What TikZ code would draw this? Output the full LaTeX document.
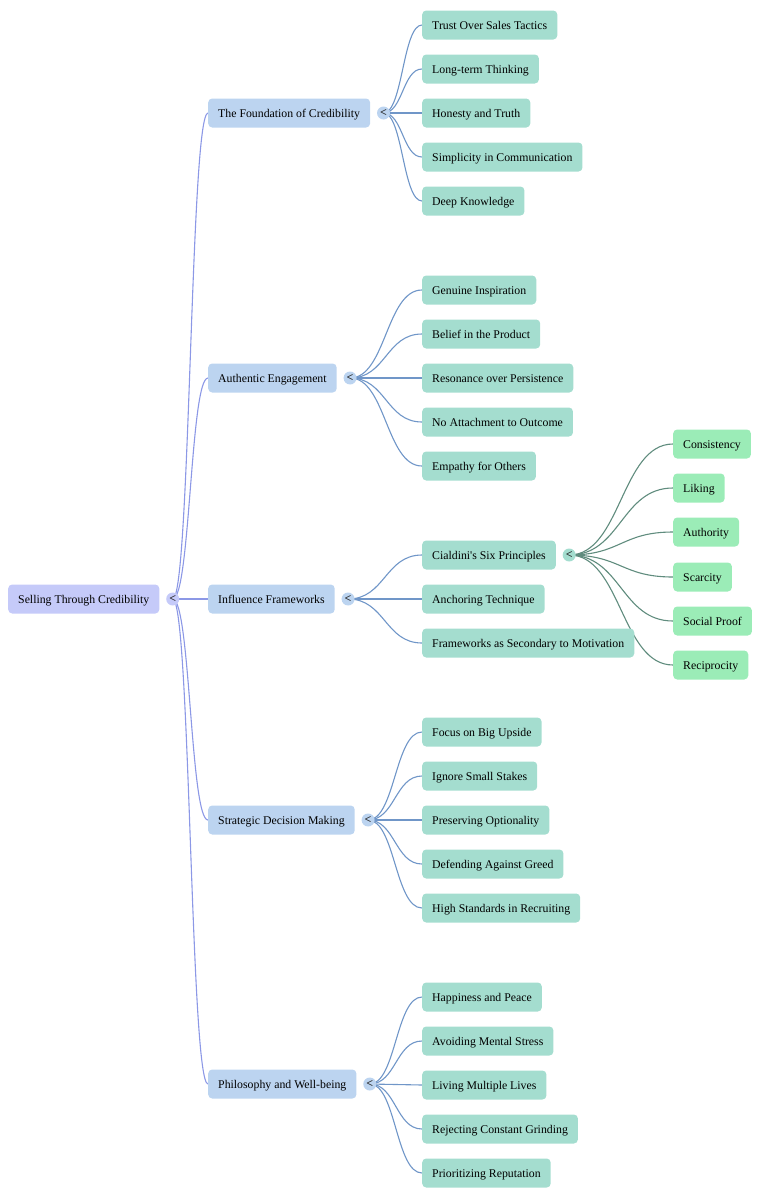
\documentclass[tikz,border=0pt]{standalone}
\usepackage{fontspec}
\setmainfont{Liberation Serif}[Ligatures=TeXOff]
\usetikzlibrary{positioning,calc,backgrounds}
\definecolor{rootfill}{RGB}{197,202,249}
\definecolor{topicfill}{RGB}{188,212,240}
\definecolor{ideafill}{RGB}{164,221,207}
\definecolor{leaffill}{RGB}{155,236,183}
\definecolor{rootline}{RGB}{140,152,230}
\definecolor{topicline}{RGB}{112,150,200}
\definecolor{idealine}{RGB}{96,140,126}
\tikzset{
  box/.style={rounded corners=4pt,anchor=west,minimum height=29pt,inner xsep=10pt,
    text height=9pt,text depth=1pt,font=\fontsize{11.8}{14}\selectfont,text=black},
  rootbox/.style={box,fill=rootfill},
  topicbox/.style={box,fill=topicfill},
  ideabox/.style={box,fill=ideafill},
  leafbox/.style={box,fill=leaffill},
  toggle/.style={circle,inner sep=0pt,minimum size=13pt,right=6.5pt of #1,
    font=\fontsize{12}{12}\selectfont\bfseries,text=black!85},
  link/.style={line width=1.1pt}
}
% curved link from a toggle to the west side of a child
\newcommand\branch[3]{\draw[link,#1] let \p1=(#2.center), \p2=(#3.west) in
  (\p1) .. controls ({(\x1+\x2)/2},\y1) and ({(\x1+\x2)/2},\y2) .. (\p2);}

\begin{document}
\begin{tikzpicture}[x=1pt,y=-1pt]
\useasboundingbox (0,0) rectangle (780,1200);

\node[rootbox] (root) at (8,599) {Selling Through Credibility};
\node[toggle=root,fill=rootfill] (root-t) {<};

\node[topicbox] (found) at (208,113) {The Foundation of Credibility};
\node[toggle=found,fill=topicfill] (found-t) {<};
\node[topicbox] (engage) at (208,378) {Authentic Engagement};
\node[toggle=engage,fill=topicfill] (engage-t) {<};
\node[topicbox] (infl) at (208,599) {Influence Frameworks};
\node[toggle=infl,fill=topicfill] (infl-t) {<};
\node[topicbox] (strat) at (208,820) {Strategic Decision Making};
\node[toggle=strat,fill=topicfill] (strat-t) {<};
\node[topicbox] (philo) at (208,1084) {Philosophy and Well-being};
\node[toggle=philo,fill=topicfill] (philo-t) {<};

\node[ideabox] (trust) at (422,25) {Trust Over Sales Tactics};
\node[ideabox] (longterm) at (422,69) {Long-term Thinking};
\node[ideabox] (honesty) at (422,113) {Honesty and Truth};
\node[ideabox] (simple) at (422,157) {Simplicity in Communication};
\node[ideabox] (knowledge) at (422,201) {Deep Knowledge};

\node[ideabox] (inspire) at (422,290) {Genuine Inspiration};
\node[ideabox] (belief) at (422,334) {Belief in the Product};
\node[ideabox] (resonance) at (422,378) {Resonance over Persistence};
\node[ideabox] (detach) at (422,422) {No Attachment to Outcome};
\node[ideabox] (empathy) at (422,466) {Empathy for Others};

\node[ideabox] (cialdini) at (422,555) {Cialdini's Six Principles};
\node[toggle=cialdini,fill=ideafill] (cialdini-t) {<};
\node[ideabox] (anchor) at (422,599) {Anchoring Technique};
\node[ideabox] (secondary) at (422,643) {Frameworks as Secondary to Motivation};

\node[leafbox] (consist) at (673,444) {Consistency};
\node[leafbox] (liking) at (673,488) {Liking};
\node[leafbox] (authority) at (673,532) {Authority};
\node[leafbox] (scarcity) at (673,577) {Scarcity};
\node[leafbox] (social) at (673,621) {Social Proof};
\node[leafbox] (recip) at (673,665) {Reciprocity};

\node[ideabox] (upside) at (422,732) {Focus on Big Upside};
\node[ideabox] (stakes) at (422,776) {Ignore Small Stakes};
\node[ideabox] (option) at (422,820) {Preserving Optionality};
\node[ideabox] (greed) at (422,864) {Defending Against Greed};
\node[ideabox] (recruit) at (422,908) {High Standards in Recruiting};

\node[ideabox] (happy) at (422,997) {Happiness and Peace};
\node[ideabox] (stress) at (422,1041) {Avoiding Mental Stress};
\node[ideabox] (lives) at (422,1085) {Living Multiple Lives};
\node[ideabox] (grind) at (422,1129) {Rejecting Constant Grinding};
\node[ideabox] (reput) at (422,1173) {Prioritizing Reputation};

\begin{scope}[on background layer]
\branch{rootline}{root-t}{found}
\branch{rootline}{root-t}{engage}
\branch{rootline}{root-t}{infl}
\branch{rootline}{root-t}{strat}
\branch{rootline}{root-t}{philo}
\branch{topicline}{found-t}{trust}
\branch{topicline}{found-t}{longterm}
\branch{topicline}{found-t}{honesty}
\branch{topicline}{found-t}{simple}
\branch{topicline}{found-t}{knowledge}
\branch{topicline}{engage-t}{inspire}
\branch{topicline}{engage-t}{belief}
\branch{topicline}{engage-t}{resonance}
\branch{topicline}{engage-t}{detach}
\branch{topicline}{engage-t}{empathy}
\branch{topicline}{infl-t}{cialdini}
\branch{topicline}{infl-t}{anchor}
\branch{topicline}{infl-t}{secondary}
\branch{idealine}{cialdini-t}{consist}
\branch{idealine}{cialdini-t}{liking}
\branch{idealine}{cialdini-t}{authority}
\branch{idealine}{cialdini-t}{scarcity}
\branch{idealine}{cialdini-t}{social}
\branch{idealine}{cialdini-t}{recip}
\branch{topicline}{strat-t}{upside}
\branch{topicline}{strat-t}{stakes}
\branch{topicline}{strat-t}{option}
\branch{topicline}{strat-t}{greed}
\branch{topicline}{strat-t}{recruit}
\branch{topicline}{philo-t}{happy}
\branch{topicline}{philo-t}{stress}
\branch{topicline}{philo-t}{lives}
\branch{topicline}{philo-t}{grind}
\branch{topicline}{philo-t}{reput}
\end{scope}
\end{tikzpicture}
\end{document}
